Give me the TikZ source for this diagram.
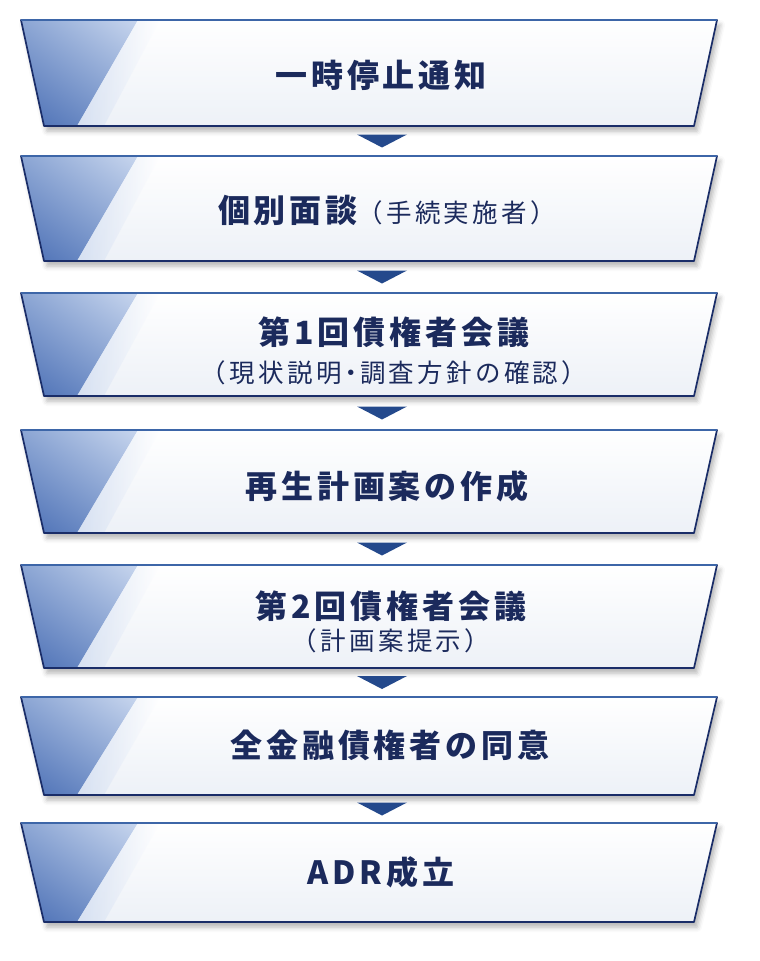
\documentclass[tikz,border=0pt]{standalone}
\usepackage{fontspec}
\newfontfamily\jpmain[LetterSpace=12]{Noto Sans CJK JP}
\newfontfamily\jpsub[LetterSpace=13]{Noto Sans CJK JP}
\usetikzlibrary{calc,shadings,shadows.blur}
\definecolor{navy}{HTML}{1B2A5C}
\definecolor{edgedark}{HTML}{1A2D68}
\definecolor{edgelight}{HTML}{3D66A8}
\definecolor{boxlow}{HTML}{EDF1F7}
\definecolor{arrowblue}{HTML}{24498C}
\definecolor{tabUL}{HTML}{8CA6D4}
\definecolor{tabUR}{HTML}{C8D6EE}
\definecolor{tabLL}{HTML}{4A6EB4}
\definecolor{tabLR}{HTML}{7E9BCE}
\definecolor{bandblue}{HTML}{D0DCF0}
\newcommand{\subtext}{\jpsub\mdseries\fontsize{25.5}{28}\selectfont}
\tikzset{
  boxshadow/.style={blur shadow={shadow xshift=3pt, shadow yshift=-5pt, shadow blur radius=5pt, shadow opacity=30}},
  steptext/.style={font=\jpmain\bfseries\fontsize{32}{38}\selectfont, text=navy, align=center},
  steparrow/.style={fill=arrowblue}
}
\begin{document}
\begin{tikzpicture}[x=1pt,y=-1pt]
\useasboundingbox (0,0) rectangle (760,961);
\foreach \n/\yt/\yb/\tx/\ty/\txt in {
  1/20/126/381/75/{一時停止通知},
  2/156/261/387/210/{個別面談{\subtext （手続実施者）}},
  3/293/396/394/351/{第1回債権者会議\\{\subtext （現状説明\kern-3.5pt・\kern-3.5pt 調査方針の確認）}},
  4/430/533/387/486/{再生計画案の作成},
  5/565/668/391/622/{第2回債権者会議\\[-6pt]{\subtext （計画案提示）}},
  6/697/795/390/745/{全金融債権者の同意},
  7/823/922/381/872/{A\kern4pt D\kern4pt R\kern4pt 成立}}{
  % box body
  \path[boxshadow] (21,\yt) -- (717,\yt) -- (694,\yb) -- (44,\yb) -- cycle;
  \shade[top color=white, bottom color=boxlow] (21,\yt) -- (717,\yt) -- (694,\yb) -- (44,\yb) -- cycle;
  \shade[upper left=tabUL, upper right=tabUR, lower left=tabLL, lower right=tabLR]
    (21,\yt) -- (138,\yt) -- (77,\yb) -- (44,\yb) -- cycle;
  \shade[left color=bandblue, right color=white, opacity=.8]
    (138,\yt) -- (160,\yt) -- (104,\yb) -- (77,\yb) -- cycle;
  \draw[edgedark, line width=1.7pt, line join=round] (21,\yt) -- (717,\yt) -- (694,\yb) -- (44,\yb) -- cycle;
  \draw[edgelight, line width=1.2pt] (21,\yt) -- (717,\yt);
  \node[steptext] (s\n) at (\tx,\ty) {\txt};
  \coordinate (t\n) at (382,\yt);
  \coordinate (b\n) at (382,\yb);
}
% arrows between steps
\foreach \i/\j in {1/2,2/3,3/4,4/5,5/6,6/7}
  \fill[steparrow] ($(b\i)!0.5!(t\j)$) ++(-25,-6.5) -- ++(50,0) -- ++(-25,13) -- cycle;
\end{tikzpicture}
\end{document}
